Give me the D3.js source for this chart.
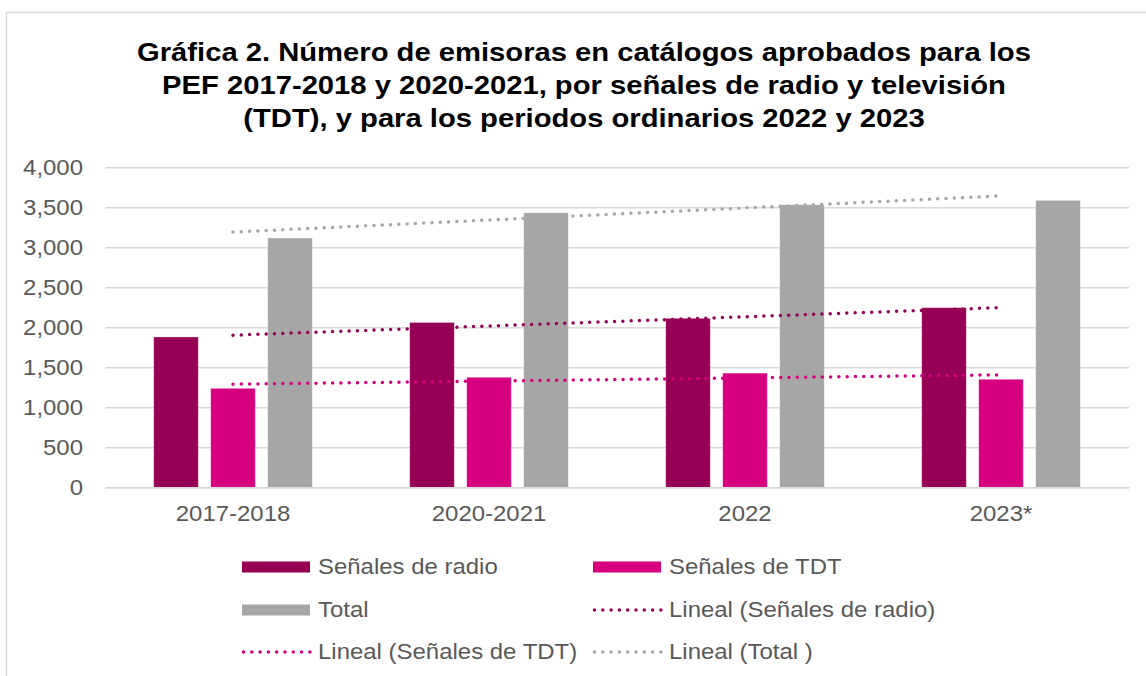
<!DOCTYPE html>
<html>
<head>
<meta charset="utf-8">
<script src="https://cdn.jsdelivr.net/npm/d3@7"></script>
<style>
  body { margin: 0; background: #fff; }
  svg { display: block; font-family: "Liberation Sans", Arial, sans-serif; }
</style>
</head>
<body>
<svg id="chart"></svg>
<script>
// data
const periods = ["2017-2018", "2020-2021", "2022", "2023*"];
const radio = [1879, 2060, 2112, 2245];
const tdt = [1237, 1375, 1427, 1350];
const total = [3116, 3432, 3532, 3586];
const yTicks = [0, 500, 1000, 1500, 2000, 2500, 3000, 3500, 4000];
const titleLines = [
  "Gráfica 2. Número de emisoras en catálogos aprobados para los",
  "PEF 2017-2018 y 2020-2021, por señales de radio y televisión",
  "(TDT), y para los periodos ordinarios 2022 y 2023"
];

const series = [
  {key: "radio", name: "Señales de radio", values: radio, color: "#960054"},
  {key: "tdt", name: "Señales de TDT", values: tdt, color: "#D6007F"},
  {key: "total", name: "Total", values: total, color: "#A6A6A6"}
];

const W = 1146, H = 676;
const margin = {top: 167.3, left: 105, right: 17, bottom: 188.7};
const innerW = W - margin.left - margin.right;
const innerH = H - margin.top - margin.bottom;
const FS = 21.5;      // body text size
const SX = 1.115;     // the source text is a bit wider than Arial

// widen a text around its own anchor point
function stretch(sel, sx) {
  sel.each(function() {
    const t = d3.select(this);
    const tx = +t.attr("x") || 0, ty = +t.attr("y") || 0;
    t.attr("transform", `translate(${tx},${ty}) scale(${sx},1) translate(${-tx},${-ty})`);
  });
}

const svg = d3.select("#chart").attr("width", W).attr("height", H);

// outer chart frame (only top & left visible)
svg.append("path")
  .attr("d", `M6.5,${H} V12.5 H${W}`)
  .attr("fill", "none")
  .attr("stroke", "#D9D9D9")
  .attr("stroke-width", 1.5);

// title
const title = svg.append("text")
  .attr("x", 584)
  .attr("y", 61.5)
  .attr("text-anchor", "middle")
  .attr("font-size", 25.5)
  .attr("font-weight", "bold")
  .attr("fill", "#000");
title.selectAll("tspan")
  .data(titleLines)
  .join("tspan")
  .attr("x", 584)
  .attr("dy", (d, i) => i === 0 ? 0 : 33)
  .text(d => d);
stretch(title, 1.145);

const g = svg.append("g").attr("transform", `translate(${margin.left},${margin.top})`);

const x = d3.scaleBand().domain(periods).range([0, innerW]);
const xInner = d3.scaleBand().domain(series.map(s => s.key))
  .range([0, x.bandwidth()])
  .paddingInner(0.219)
  .paddingOuter(0.855);
const y = d3.scaleLinear().domain([0, 4000]).range([innerH, 0]);

// gridlines + y labels
const yAxis = g.append("g")
  .call(d3.axisLeft(y).tickValues(yTicks).tickFormat(d3.format(",")).tickSize(-innerW).tickPadding(22));
yAxis.select(".domain").remove();
yAxis.selectAll(".tick line").attr("stroke", "#D9D9D9").attr("stroke-width", 1.5);
yAxis.selectAll(".tick text")
  .attr("font-size", FS)
  .attr("fill", "#595959")
  .attr("font-family", "Liberation Sans, Arial, sans-serif")
  .call(stretch, SX);

// bars
series.forEach(s => {
  g.append("g").selectAll("rect")
    .data(periods.map((p, i) => ({p, v: s.values[i]})))
    .join("rect")
    .attr("x", d => x(d.p) + xInner(s.key))
    .attr("y", d => y(d.v))
    .attr("width", xInner.bandwidth())
    .attr("height", d => innerH - y(d.v))
    .attr("fill", s.color)
    .attr("stroke", "#fff")
    .attr("stroke-opacity", 0.35)
    .attr("stroke-width", 0.75);
});

// x axis
const xAxis = g.append("g")
  .attr("transform", `translate(0,${innerH})`)
  .call(d3.axisBottom(x).tickSize(0).tickPadding(18));
xAxis.select(".domain").attr("stroke", "#D9D9D9").attr("stroke-width", 1.5);
xAxis.selectAll(".tick text")
  .attr("font-size", FS)
  .attr("fill", "#595959")
  .attr("font-family", "Liberation Sans, Arial, sans-serif")
  .call(stretch, SX);

// linear trendlines (least squares fit, like the spreadsheet)
function fit(vals) {
  const xs = vals.map((_, i) => i + 1);
  const mx = d3.mean(xs), my = d3.mean(vals);
  const b = d3.sum(xs, (xi, i) => (xi - mx) * (vals[i] - my)) / d3.sum(xs, xi => (xi - mx) ** 2);
  const a = my - b * mx;
  return xs.map(xi => a + b * xi);
}
const line = d3.line()
  .x((d, i) => x(periods[i]) + x.bandwidth() / 2)
  .y(d => y(d));

const trendOrder = [series[2], series[0], series[1]];
trendOrder.forEach(s => {
  g.append("path")
    .datum(fit(s.values))
    .attr("d", line)
    .attr("fill", "none")
    .attr("stroke", s.color)
    .attr("stroke-width", 3.5)
    .attr("stroke-linecap", "round")
    .attr("stroke-dasharray", "0 8.3");
});

// legend
const legendItems = [
  {label: "Señales de radio", color: series[0].color, type: "bar", col: 0, row: 0},
  {label: "Señales de TDT", color: series[1].color, type: "bar", col: 1, row: 0},
  {label: "Total", color: series[2].color, type: "bar", col: 0, row: 1},
  {label: "Lineal (Señales de radio)", color: series[0].color, type: "line", col: 1, row: 1},
  {label: "Lineal (Señales de TDT)", color: series[1].color, type: "line", col: 0, row: 2},
  {label: "Lineal (Total )", color: series[2].color, type: "line", col: 1, row: 2}
];
const colX = [242, 593];
const rowY = [567, 610, 652];

const leg = svg.append("g");
legendItems.forEach(d => {
  const lx = colX[d.col], ly = rowY[d.row];
  if (d.type === "bar") {
    leg.append("rect")
      .attr("x", lx).attr("y", ly - 5.5)
      .attr("width", 68).attr("height", 11)
      .attr("fill", d.color);
  } else {
    leg.append("line")
      .attr("x1", lx + 1.5).attr("x2", lx + 68)
      .attr("y1", ly).attr("y2", ly)
      .attr("stroke", d.color)
      .attr("stroke-width", 3.5)
      .attr("stroke-linecap", "round")
      .attr("stroke-dasharray", "0 8.3");
  }
  leg.append("text")
    .attr("x", lx + 76)
    .attr("y", ly + 7.5)
    .attr("font-size", FS)
    .attr("fill", "#595959")
    .text(d.label)
    .call(stretch, SX);
});
</script>
</body>
</html>
